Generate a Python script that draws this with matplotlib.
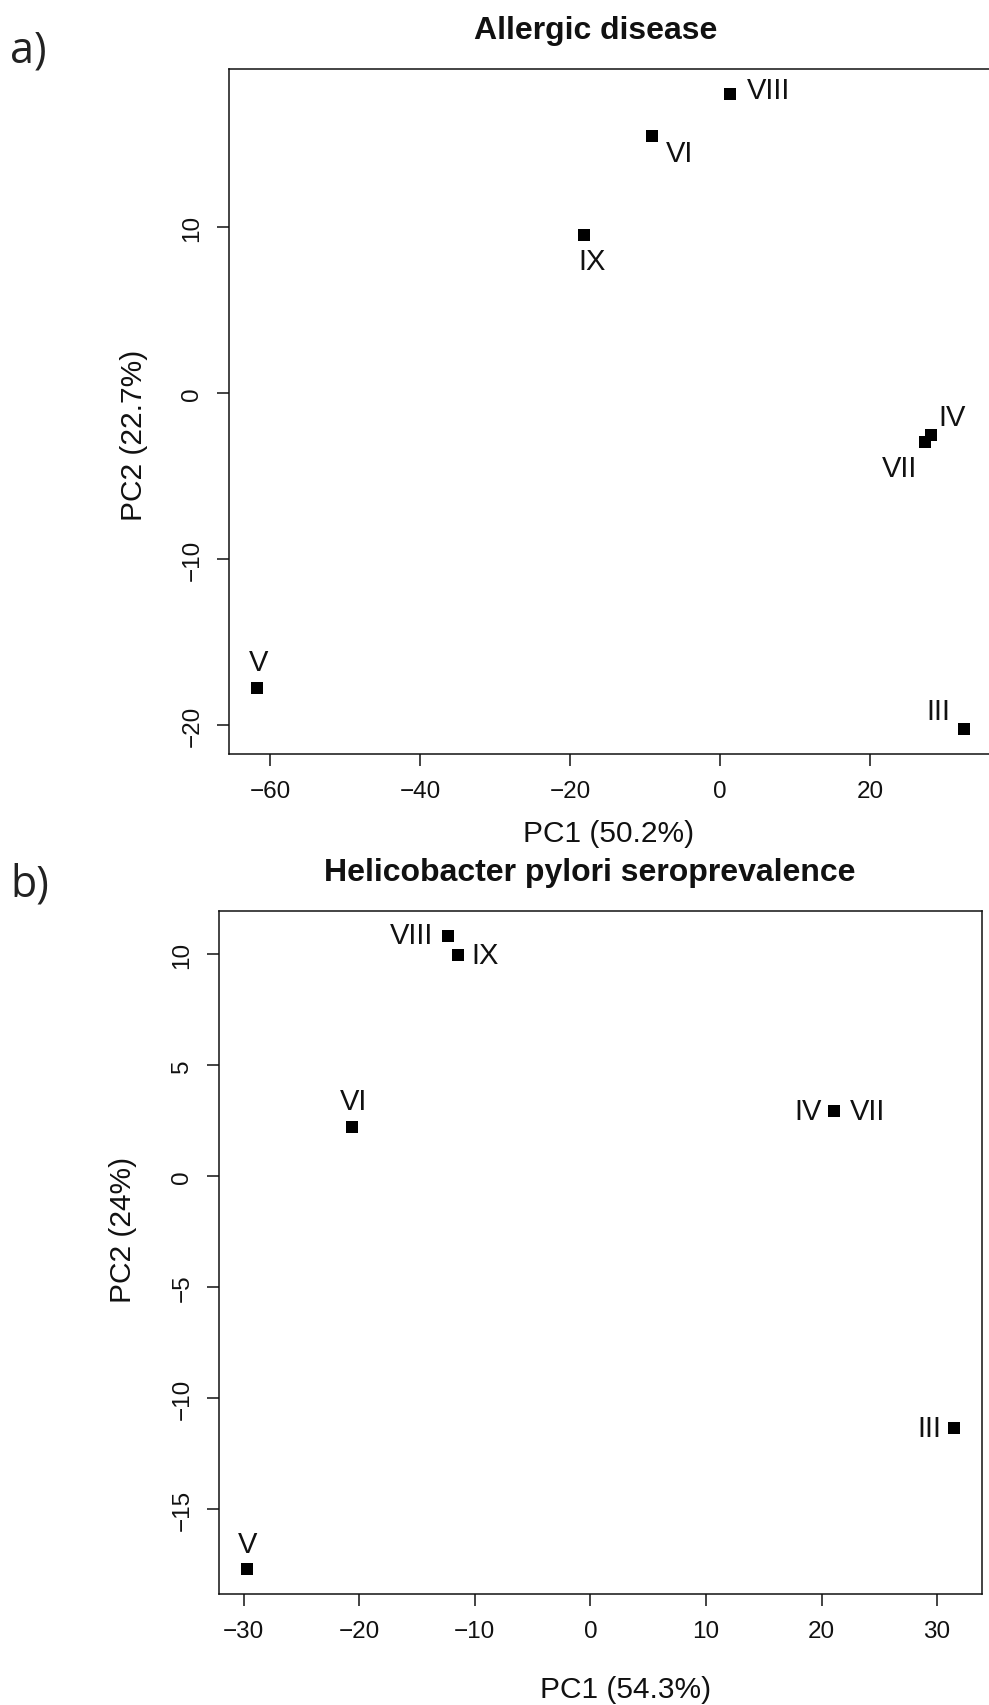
import matplotlib
matplotlib.use("Agg")
import matplotlib.pyplot as plt

plt.rcParams['font.family'] = ['Liberation Sans', 'DejaVu Sans']

# ---------------- data ----------------
labels_a = ["VIII", "VI", "IX", "IV", "VII", "V", "III"]
pc1_a = [1.4, -9.0, -18.2, 28.2, 27.4, -61.7, 32.5]
pc2_a = [18.0, 15.5, 9.55, -2.5, -2.95, -17.75, -20.2]
xticks_a = [-60, -40, -20, 0, 20]
yticks_a = [-20, -10, 0, 10]
title_a = "Allergic disease"
xlab_a = "PC1 (50.2%)"
ylab_a = "PC2 (22.7%)"

labels_b = ["VIII", "IX", "VI", "IV", "VII", "III", "V"]
pc1_b = [-12.28, -11.46, -20.63, 21.12, 21.12, 31.44, -29.69]
pc2_b = [10.81, 9.97, 2.24, 2.96, 2.96, -11.33, -17.67]
xticks_b = [-30, -20, -10, 0, 10, 20, 30]
yticks_b = [-15, -10, -5, 0, 5, 10]
title_b = "Helicobacter pylori seroprevalence"
xlab_b = "PC1 (54.3%)"
ylab_b = "PC2 (24%)"

# label placement (offset in points, ha, va)
place_a = {
    "VIII": ((12.0, 3.0), "left", "center"),
    "VI": ((9.4, -12.2), "left", "center"),
    "IX": ((6.5, -18.7), "center", "center"),
    "IV": ((5.0, 13.0), "left", "center"),
    "VII": ((-5.8, -18.4), "right", "center"),
    "V": ((0.7, 18.6), "center", "center"),
    "III": ((-9.5, 12.6), "right", "center"),
}
place_b = {
    "VIII": ((-10.8, 1.2), "right", "center"),
    "IX": ((10.0, 0.0), "left", "center"),
    "VI": ((1.4, 18.7), "center", "center"),
    "IV": ((-9.0, 0.0), "right", "center"),
    "VII": ((10.9, 0.0), "left", "center"),
    "III": ((-9.0, 0.0), "right", "center"),
    "V": ((0.0, 17.5), "center", "center"),
}

W, H = 989, 1706
fig = plt.figure(figsize=(W / 100, H / 100), dpi=100)
fig.patch.set_facecolor("white")


def px_axes(left, top, right, bottom):
    return [left / W, 1 - bottom / H, (right - left) / W, (bottom - top) / H]


def panel(rect, xs, ys, labs, places, xticks, yticks):
    ax = fig.add_axes(rect)
    ax.plot(xs, ys, linestyle="none", marker="s", ms=8.3, mew=0, color="black")
    ax.margins(0.04)
    for x, y, lab in zip(xs, ys, labs):
        off, ha, va = places[lab]
        ax.annotate(lab, (x, y), xytext=off, textcoords="offset points",
                    ha=ha, va=va, fontsize=21, color="#111111")
    ax.set_xticks(xticks)
    ax.set_yticks(yticks)
    ax.set_xticklabels([str(t).replace("-", "\u2212") for t in xticks])
    ax.set_yticklabels([str(t).replace("-", "\u2212") for t in yticks],
                       rotation=90, va="center")
    ax.tick_params(axis="both", direction="out", length=8.5, width=1.1,
                   labelsize=17.5, pad=10, colors="#111111")
    ax.tick_params(top=False, right=False)
    for s in ax.spines.values():
        s.set_linewidth(1.1)
        s.set_color("#111111")
    return ax


ax_a = panel(px_axes(229, 70, 992, 755), pc1_a, pc2_a, labels_a, place_a,
             xticks_a, yticks_a)
ax_b = panel(px_axes(219, 912, 982, 1595), pc1_b, pc2_b, labels_b, place_b,
             xticks_b, yticks_b)


def ftext(x, y, s, **kw):
    fig.text(x / W, 1 - y / H, s, **kw)


# titles
ftext(596, 38.5, title_a, ha="center", va="baseline", fontsize=23,
      fontweight="bold", color="#111111")
ftext(590, 881, title_b, ha="center", va="baseline", fontsize=23,
      fontweight="bold", color="#111111")

# axis labels
ftext(609, 842, xlab_a, ha="center", va="baseline", fontsize=21.5, color="#111111")
ftext(134, 435, ylab_a, ha="center", va="center", rotation=90, fontsize=21.5,
      color="#111111")
ftext(626, 1698, xlab_b, ha="center", va="baseline", fontsize=21.5, color="#111111")
ftext(123, 1230, ylab_b, ha="center", va="center", rotation=90, fontsize=21.5,
      color="#111111")

# panel letters
ftext(10, 62, "a)", ha="left", va="baseline", fontsize=31,
      family=["Open Sans", "DejaVu Sans"], color="#222222")
ftext(10, 897, "b)", ha="left", va="baseline", fontsize=31,
      family=["Open Sans", "DejaVu Sans"], color="#222222")

fig.savefig("out.png", dpi=100, facecolor="white")
